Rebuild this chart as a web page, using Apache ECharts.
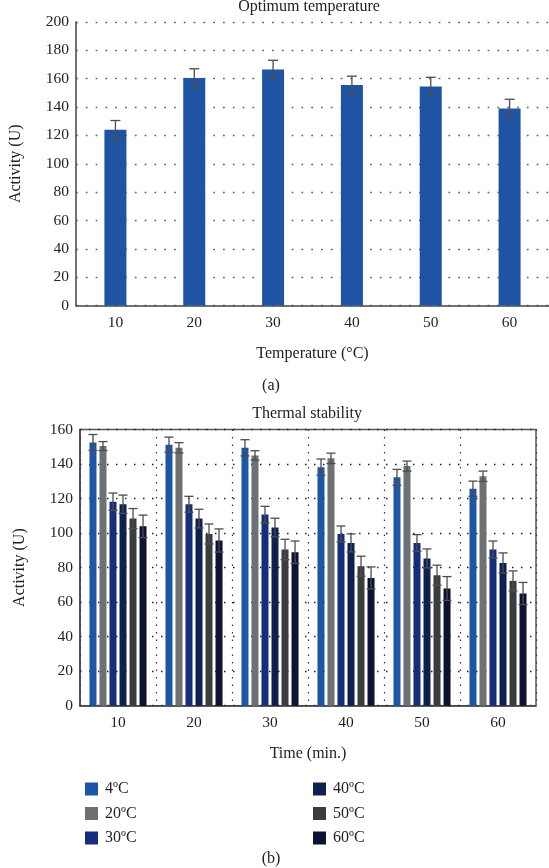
<!DOCTYPE html>
<html>
<head>
<meta charset="utf-8">
<script src="https://cdn.jsdelivr.net/npm/echarts@6/dist/echarts.min.js"></script>
<style>
html,body{margin:0;padding:0;background:#fff;}
#chart{width:549px;height:868px;}
</style>
</head>
<body>
<div id="chart"></div>
<script>
// ---- data (a) Optimum temperature ----
const tempCategories = ['10', '20', '30', '40', '50', '60'];
const optimumActivity = [124, 160.5, 166.5, 155.5, 154.5, 139];
const optimumError = [6.5, 6.5, 6.5, 6.3, 6.5, 6.5];

// ---- data (b) Thermal stability ----
const timeCategories = ['10', '20', '30', '40', '50', '60'];
const stabilitySeriesNames = ['4ºC', '20ºC', '30ºC', '40ºC', '50ºC', '60ºC'];
const act4 = [152.5, 151.2, 149.4, 138.2, 132.3, 125.7];
const act20 = [150.4, 149.4, 145.0, 143.3, 138.8, 132.9];
const act30 = [118.2, 116.7, 110.7, 99.5, 94.3, 90.5];
const act40 = [116.7, 108.4, 103.2, 94.3, 85.3, 82.7];
const act50 = [108.4, 99.5, 90.5, 80.8, 75.6, 72.3];
const act60 = [103.9, 95.7, 88.9, 74.0, 67.9, 65.0];
const err4 = [4.6, 4.4, 4.7, 4.7, 4.6, 4.4];
const err20 = [2.6, 3.0, 2.7, 3.0, 2.9, 3.0];
const err30 = [5.0, 4.6, 4.8, 4.6, 4.8, 4.9];
const err40 = [5.3, 5.4, 5.4, 5.2, 5.5, 5.8];
const err50 = [5.8, 5.8, 5.9, 5.8, 5.8, 5.8];
const err60 = [6.5, 6.7, 6.5, 6.4, 6.9, 6.4];

const stabilityValues = [act4, act20, act30, act40, act50, act60];
const stabilityErrors = [err4, err20, err30, err40, err50, err60];
const stabilityColors = ['#1d55a7', '#6e7174', '#162d7c', '#0e2050', '#3a3c3e', '#0b1233'];

const FONT = "'Liberation Serif', 'DejaVu Serif', serif";
const TXT = '#222';

const chart = echarts.init(document.getElementById('chart'), null, {renderer: 'canvas'});

function errRender(barIdx, nBars, barW, gapRatio, capW) {
  return function (params, api) {
    const x = api.value(0), v = api.value(1), e = api.value(2);
    const hi = api.coord([x, v + e]);
    const lo = api.coord([x, v - e]);
    let offset = 0;
    if (nBars > 1) {
      const step = barW * (1 + gapRatio);
      const total = nBars * barW + (nBars - 1) * barW * gapRatio;
      offset = -total / 2 + barW / 2 + barIdx * step;
    }
    const cx = hi[0] + offset;
    const st = {stroke: '#4d4d4d', lineWidth: 1.3};
    return {
      type: 'group',
      children: [
        {type: 'line', shape: {x1: cx, y1: hi[1], x2: cx, y2: lo[1]}, style: st},
        {type: 'line', shape: {x1: cx - capW / 2, y1: hi[1], x2: cx + capW / 2, y2: hi[1]}, style: st},
        {type: 'line', shape: {x1: cx - capW / 2, y1: lo[1], x2: cx + capW / 2, y2: lo[1]}, style: st}
      ]
    };
  };
}

const series = [];
// (a)
series.push({
  name: 'Activity',
  type: 'bar',
  xAxisIndex: 0, yAxisIndex: 0,
  data: optimumActivity,
  barWidth: 22,
  itemStyle: {color: '#1f54a5'}
});
series.push({
  type: 'custom',
  xAxisIndex: 0, yAxisIndex: 0,
  renderItem: errRender(0, 1, 22, 0, 10),
  data: optimumActivity.map((v, i) => [i, v, optimumError[i]]),
  z: 10
});
// (b)
const BW = 7, GAP = 0.43;
stabilityValues.forEach((vals, s) => {
  series.push({
    name: stabilitySeriesNames[s],
    type: 'bar',
    xAxisIndex: 1, yAxisIndex: 1,
    data: vals,
    barWidth: BW,
    barGap: (GAP * 100) + '%',
    itemStyle: {color: stabilityColors[s]}
  });
});
stabilityValues.forEach((vals, s) => {
  series.push({
    type: 'custom',
    xAxisIndex: 1, yAxisIndex: 1,
    renderItem: errRender(s, stabilityValues.length, BW, GAP, 9),
    data: vals.map((v, i) => [i, v, stabilityErrors[s][i]]),
    z: 10
  });
});

const axisLabelStyle = {fontFamily: FONT, fontSize: 15.5, color: TXT};
const nameStyle = {fontFamily: FONT, fontSize: 16, color: TXT};

chart.setOption({
  animation: false,
  backgroundColor: '#fff',
  textStyle: {fontFamily: FONT},
  graphic: [
    {type: 'text', left: null, x: 309, y: 7, style: {text: 'Optimum temperature', font: '16px ' + FONT, fill: TXT, textAlign: 'center', textVerticalAlign: 'middle'}},
    {type: 'text', x: 271, y: 386, style: {text: '(a)', font: '16px ' + FONT, fill: TXT, textAlign: 'center', textVerticalAlign: 'middle'}},
    {type: 'text', x: 307, y: 414, style: {text: 'Thermal stability', font: '16px ' + FONT, fill: TXT, textAlign: 'center', textVerticalAlign: 'middle'}},
    {type: 'text', x: 271, y: 859, style: {text: '(b)', font: '16px ' + FONT, fill: TXT, textAlign: 'center', textVerticalAlign: 'middle'}}
  ],
  legend: [
    {
      data: stabilitySeriesNames.slice(0, 3),
      orient: 'vertical', left: 80, top: 776,
      itemWidth: 13, itemHeight: 13, itemGap: 8.5, icon: 'rect',
      textStyle: {fontFamily: FONT, fontSize: 16, color: TXT, padding: [0, 0, 0, 2]}
    },
    {
      data: stabilitySeriesNames.slice(3),
      orient: 'vertical', left: 308, top: 776,
      itemWidth: 13, itemHeight: 13, itemGap: 8.5, icon: 'rect',
      textStyle: {fontFamily: FONT, fontSize: 16, color: TXT, padding: [0, 0, 0, 2]}
    }
  ],
  grid: [
    {left: 69, right: 0, top: 22, bottom: 868 - 305.5, containLabel: false},
    {left: 80, right: 13, top: 429.5, bottom: 868 - 705.7, containLabel: false,
     show: true, borderColor: '#555', borderWidth: 1.5, backgroundColor: 'transparent'}
  ],
  xAxis: [
    {
      type: 'category', gridIndex: 0, data: tempCategories,
      name: 'Temperature (°C)', nameLocation: 'middle', nameGap: 40, nameTextStyle: nameStyle,
      axisLine: {lineStyle: {color: '#444', width: 1.5}},
      axisTick: {show: false},
      axisLabel: Object.assign({margin: 9}, axisLabelStyle),
      splitLine: {show: false}
    },
    {
      type: 'category', gridIndex: 1, data: timeCategories,
      name: 'Time (min.)', nameLocation: 'middle', nameGap: 40, nameTextStyle: nameStyle,
      axisLine: {lineStyle: {color: '#444', width: 1.5}},
      axisTick: {show: false},
      axisLabel: Object.assign({margin: 9}, axisLabelStyle),
      splitLine: {show: true, lineStyle: {color: '#333', type: [1.5, 6], width: 1.2}}
    }
  ],
  yAxis: [
    {
      type: 'value', gridIndex: 0, min: 0, max: 200, interval: 20,
      name: 'Activity (U)', nameLocation: 'middle', nameGap: 52, nameTextStyle: nameStyle,
      axisLine: {show: true, lineStyle: {color: '#444', width: 1.5}},
      axisTick: {show: false},
      axisLabel: Object.assign({margin: 7}, axisLabelStyle),
      splitLine: {show: true, lineStyle: {color: '#666', type: [1.8, 8], width: 1.3}}
    },
    {
      type: 'value', gridIndex: 1, min: 0, max: 160, interval: 20,
      name: 'Activity (U)', nameLocation: 'middle', nameGap: 52, nameTextStyle: nameStyle,
      axisLine: {show: true, lineStyle: {color: '#444', width: 1.5}},
      axisTick: {show: false},
      axisLabel: Object.assign({margin: 7}, axisLabelStyle),
      splitLine: {show: true, lineStyle: {color: '#222', type: [1.5, 7.5], width: 1.3}}
    }
  ],
  series: series
});
</script>
</body>
</html>
